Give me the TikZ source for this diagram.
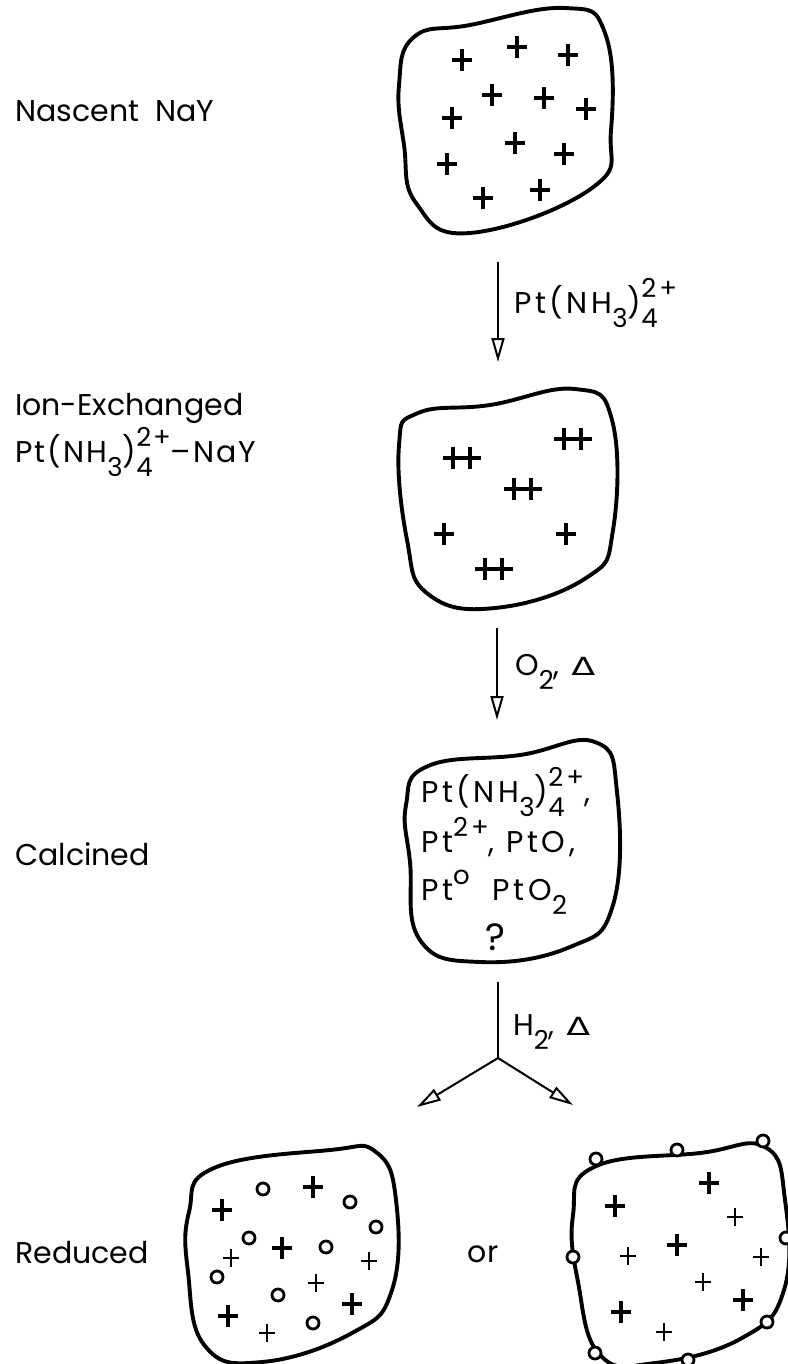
\documentclass[tikz,border=0pt]{standalone}
\usepackage{fontspec}
\setmainfont{Poppins}
\newfontfamily\dvfont{DejaVu Sans}
\usetikzlibrary{arrows.meta}

% text sizes and chemical sub/superscripts
\newcommand\txtsz{\fontsize{30}{36}\selectfont}
\newcommand\scrsz{\fontsize{26}{30}\selectfont}
\newcommand\lo[1]{\raisebox{-14pt}{\scrsz #1}}
\newcommand\hi[1]{\raisebox{16pt}{\scrsz #1}}
\newcommand\lohi[2]{\rlap{\lo{#1}}\hi{#2}}
\newcommand\dlt{{\dvfont\fontsize{25}{28}\selectfont\scalebox{1.4}[1]{Δ}}}
\newcommand\wide{\addfontfeature{LetterSpace=7}}
\newcommand\wider{\addfontfeature{LetterSpace=12}}

\begin{document}
\begin{tikzpicture}[x=1pt,y=-1pt,
  lbl/.style={anchor=base west, inner sep=0pt, font=\txtsz},
  blob/.style={line width=3.9pt, line join=round},
  arr/.style={line width=2pt, -{Triangle[open, length=24pt, width=13pt]}},
  stem/.style={line width=2pt},
  dot/.style={line width=2.8pt},
  pl/.pic={\draw[line width=3.4pt] (-10,0)--(10,0) (0,-11)--(0,11);},
  sp/.pic={\draw[line width=2.4pt] (-8,0)--(8,0) (0,-9)--(0,9);},
  dp/.pic={\draw[line width=3.3pt] (-19,0)--(19,0) (-9,-11)--(-9,11) (8,-11)--(8,11);}
]
\useasboundingbox (0,0) rectangle (787,1364);

% stage labels
\node[lbl] (lnascent) at (15,122) {Nascent\hspace{16pt}NaY};
\node[lbl] (lion) at (15,415) {Ion-Exchanged};
\node[lbl] (lptnay) at (15,462) {\wide Pt(NH\lo{3})\lohi{4}{2+}–NaY};
\node[lbl] (lcalc) at (15,865) {Calcined};
\node[lbl] (lred) at (15,1263) {Reduced};

% nascent NaY particle
\draw[blob] plot[smooth cycle, tension=0.75] coordinates {
  (399,85) (414,37) (470,25) (565,8) (605,33) (611,130)
  (592,188) (470,233) (416,203) (404,145)};
\foreach \p in {(462,60),(517,47),(568,55),(492,95),(544,98),(586,109),
  (452,118),(515,143),(564,154),(447,164),(483,198),(540,190)}
  \pic at \p {pl};

% ion exchange step
\coordinate (a1s) at (498,262);
\coordinate (a1e) at (498,362);
\draw[arr] (a1s) -- (a1e);
\node[lbl] (r1) at (514,313) {\wider Pt(NH\lo{3})\lohi{4}{2+}};

% ion-exchanged particle
\draw[blob] plot[smooth cycle, tension=0.75] coordinates {
  (399,445) (418,413) (490,405) (575,389) (612,420) (613,530)
  (586,578) (495,608) (428,594) (407,540)};
\foreach \p in {(462,458),(573,439),(523,489),(494,569)}
  \pic at \p {dp};
\foreach \p in {(444,534),(566,534)}
  \pic at \p {pl};

% calcination step
\coordinate (a2s) at (497,628);
\coordinate (a2e) at (497,720);
\draw[arr] (a2s) -- (a2e);
\node[lbl] (r2) at (515,675) {\wider O\lo{2}, \dlt};

% calcined particle
\draw[blob] plot[smooth cycle, tension=0.75] coordinates {
  (406,805) (428,766) (520,755) (595,742) (617,792) (613,905)
  (570,947) (480,962) (420,940) (410,862)};
\node[lbl] (c1) at (421,802) {\wider Pt(NH\lo{3})\lohi{4}{2+},};
\node[lbl] (c2) at (421,852) {\wider Pt\hi{2+}, PtO,};
\node[lbl] (c3) at (421,900) {\wider Pt\hi{o}\ \ PtO\lo{2}};
\node[anchor=base, inner sep=0pt, font=\fontsize{38}{42}\selectfont] (c4) at (495,950) {?};

% reduction step
\coordinate (a3s) at (498,982);
\coordinate (a3m) at (498,1058);
\coordinate (a3l) at (417,1107);
\coordinate (a3r) at (573,1105);
\draw[stem] (a3s) -- (a3m);
\draw[arr] (a3m) -- (a3l);
\draw[arr] (a3m) -- (a3r);
\node[lbl] (r3) at (513,1035) {\wider H\lo{2}, \dlt};

% reduced particle, metal inside the cages
\draw[blob] plot[smooth cycle, tension=0.75] coordinates {
  (189,1212) (214,1168) (330,1150) (376,1152) (396,1200) (392,1290)
  (352,1333) (262,1362) (205,1346) (188,1272)};
\foreach \p in {(222,1210),(313,1187),(282,1248),(352,1304),(228,1316)}
  \pic at \p {pl};
\foreach \p in {(231,1258),(369,1261),(316,1283),(267,1333)}
  \pic at \p {sp};
\foreach \p in {(263,1189),(350,1202),(376,1227),(249,1238),(326,1247),
  (217,1277),(278,1295),(313,1323)}
  \draw[dot] \p circle[radius=6];

\node[anchor=base, inner sep=0pt, font=\txtsz] (or) at (483,1262) {or};

% reduced particle, metal on the outer surface
\draw[blob] plot[smooth cycle, tension=0.75] coordinates {
  (573,1215) (594,1167) (700,1153) (765,1147) (785,1200) (784,1290)
  (742,1338) (655,1363) (600,1355) (578,1282)};
\foreach \p in {(709,1183),(615,1206),(677,1245),(743,1300),(621,1312)}
  \pic at \p {pl};
\foreach \p in {(735,1217),(628,1256),(761,1257),(703,1282),(664,1332)}
  \pic at \p {sp};
\foreach \p in {(596,1159),(677,1150),(763,1141),(786,1238),(573,1257),
  (767,1322),(595,1353),(688,1360)}
  \draw[dot, fill=white] \p circle[radius=6];
\end{tikzpicture}
\end{document}
